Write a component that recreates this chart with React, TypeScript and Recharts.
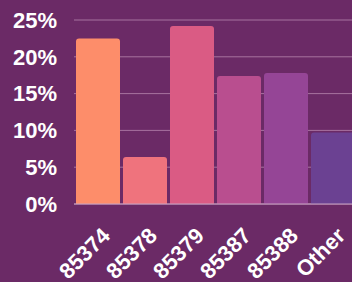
import React from 'react';
import { BarChart, Bar, XAxis, YAxis, CartesianGrid, Cell } from 'recharts';

const categories = ['85374', '85378', '85379', '85387', '85388', 'Other'];
const shares = [22.5, 6.4, 24.2, 17.4, 17.8, 9.7];
const colors = ['#fd8d6a', '#ef737d', '#da5b84', '#b94e8f', '#954596', '#6b4192'];
const yTicks = [0, 5, 10, 15, 20, 25];

const data = categories.map((c, i) => ({ name: c, value: shares[i] }));

const BG = '#6b2a66';
const FONT = '"Liberation Sans", Arial, sans-serif';

const XTick = (props: any) => {
  const { x, y, payload } = props;
  return (
    <text
      transform={`translate(${x + 14},${y + 33}) rotate(-45)`}
      textAnchor="end"
      fill="#ffffff"
      fontFamily={FONT}
      fontWeight="bold"
      fontSize={22}
    >
      {payload.value}
    </text>
  );
};

export default function App() {
  return (
    <div
      style={{
        position: 'fixed',
        left: 0,
        top: 0,
        width: 352,
        height: 282,
        overflow: 'hidden',
        background: BG,
      }}
    >
      <BarChart
        width={356}
        height={282}
        data={data}
        margin={{ top: 20, right: 0, bottom: 0, left: 0 }}
        barSize={44}
      >
        <CartesianGrid vertical={false} stroke="#a7729f" strokeWidth={1} />
        <XAxis
          dataKey="name"
          height={78}
          tickLine={false}
          tickSize={0}
          tickMargin={0}
          axisLine={{ stroke: '#c9a3c3', strokeWidth: 1 }}
          tick={<XTick />}
          interval={0}
        />
        <YAxis
          width={74}
          domain={[0, 25]}
          ticks={yTicks}
          tickFormatter={(v: number) => `${v}%`}
          axisLine={false}
          tickLine={false}
          tickSize={0}
          tickMargin={17}
          tick={{ fill: '#ffffff', fontFamily: FONT, fontWeight: 'bold', fontSize: 22 }}
          interval={0}
        />
        <Bar dataKey="value" isAnimationActive={false} radius={[3, 3, 0, 0]}>
          {data.map((d, i) => (
            <Cell key={d.name} fill={colors[i]} />
          ))}
        </Bar>
      </BarChart>
    </div>
  );
}
